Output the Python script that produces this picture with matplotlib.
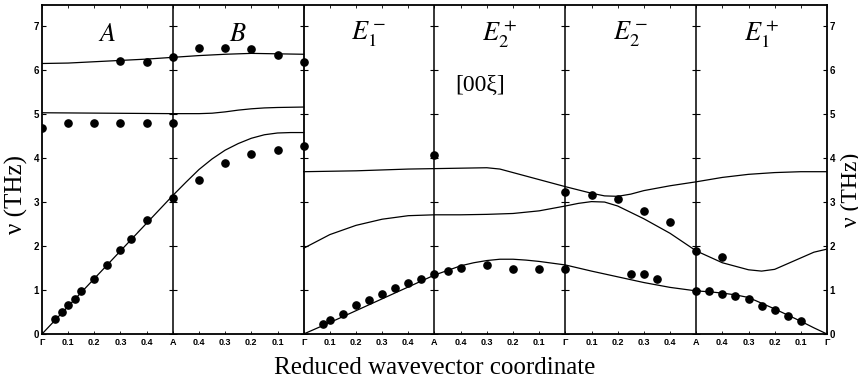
import matplotlib
matplotlib.use("Agg")
import matplotlib.pyplot as plt
import numpy as np

# path coordinate: left panel 0..1 (G-A-G), right panel 1..3 (G-A-G-A-G)
tick_pos = [i / 10 for i in range(31)]
tick_lab = (["Γ", "0.1", "0.2", "0.3", "0.4", "A", "0.4", "0.3", "0.2", "0.1"] * 3) + ["Γ"]
boundaries = [0.5, 1.0, 1.5, 2.0, 2.5]
panel_labels = ["$A$", "$B$", "$E_1^-$", "$E_2^+$", "$E_2^-$", "$E_1^+$"]
panel_x = [0.25, 0.75, 1.25, 1.75, 2.25, 2.75]

# calculated dispersion curves, left panel
l1_x = [0.0, 0.5, 0.55, 0.6, 0.65, 0.7, 0.75, 0.8, 0.85, 0.9, 0.95, 1.0]
l1_y = [0.0, 3.15, 3.45, 3.74, 3.98, 4.18, 4.33, 4.45, 4.53, 4.57, 4.58, 4.58]
l2_x = [0.0, 0.25, 0.5, 0.6, 0.65, 0.7, 0.75, 0.8, 0.85, 0.9, 1.0]
l2_y = [5.03, 5.02, 5.01, 5.01, 5.02, 5.05, 5.09, 5.12, 5.14, 5.15, 5.16]
l3_x = [0.0, 0.1, 0.2, 0.3, 0.4, 0.5, 0.6, 0.7, 0.8, 0.9, 1.0]
l3_y = [6.15, 6.16, 6.19, 6.22, 6.25, 6.29, 6.33, 6.36, 6.38, 6.37, 6.36]

# calculated dispersion curves, right panel
r1_x = [1.0, 1.1, 1.2, 1.3, 1.4, 1.5, 1.6, 1.65, 1.7, 1.75, 1.8, 1.85, 1.9, 2.0,
        2.1, 2.2, 2.3, 2.4, 2.5, 2.55, 2.6, 2.65, 2.7, 2.75, 2.8, 2.85, 2.9, 2.95, 3.0]
r1_y = [0.0, 0.26, 0.53, 0.80, 1.07, 1.34, 1.55, 1.62, 1.67, 1.70, 1.70, 1.68, 1.65, 1.57,
        1.43, 1.30, 1.17, 1.06, 0.98, 0.96, 0.93, 0.89, 0.83, 0.70, 0.57, 0.43, 0.29, 0.14, 0.0]
r2_x = [1.0, 1.1, 1.2, 1.3, 1.4, 1.5, 1.6, 1.7, 1.8, 1.9, 2.0, 2.05, 2.1, 2.15, 2.2,
        2.3, 2.4, 2.5, 2.6, 2.7, 2.75, 2.8, 2.9, 2.95, 3.0]
r2_y = [1.95, 2.26, 2.47, 2.61, 2.69, 2.71, 2.71, 2.72, 2.74, 2.80, 2.91, 2.97, 3.01, 3.00, 2.91,
        2.62, 2.29, 1.89, 1.62, 1.46, 1.43, 1.47, 1.73, 1.86, 1.93]
r3_x = [1.0, 1.2, 1.4, 1.5, 1.6, 1.7, 1.75, 1.8, 1.9, 2.0, 2.1, 2.15, 2.2, 2.25, 2.3,
        2.4, 2.5, 2.6, 2.7, 2.8, 2.9, 3.0]
r3_y = [3.69, 3.71, 3.75, 3.76, 3.77, 3.78, 3.75, 3.67, 3.51, 3.35, 3.20, 3.14, 3.13, 3.18, 3.26,
        3.37, 3.46, 3.56, 3.63, 3.67, 3.69, 3.69]

# measured points
p_x = [0.05, 0.075, 0.1, 0.125, 0.15, 0.2, 0.25, 0.3, 0.34, 0.4, 0.5, 0.6, 0.7, 0.8, 0.9, 1.0,
       0.0, 0.1, 0.2, 0.3, 0.4, 0.5,
       0.3, 0.4, 0.5, 0.6, 0.7, 0.8, 0.9, 1.0,
       1.075, 1.1, 1.15, 1.2, 1.25, 1.3, 1.35, 1.4, 1.45, 1.5, 1.55, 1.6, 1.7, 1.8, 1.9, 2.0,
       1.5, 2.0, 2.1, 2.2, 2.3, 2.4, 2.25, 2.3, 2.35,
       2.5, 2.5, 2.6, 2.55, 2.6, 2.65, 2.7, 2.75, 2.8, 2.85, 2.9]
p_y = [0.35, 0.49, 0.65, 0.80, 0.98, 1.24, 1.57, 1.90, 2.17, 2.59, 3.10, 3.49, 3.89, 4.09, 4.18, 4.28,
       4.69, 4.80, 4.80, 4.80, 4.79, 4.79,
       6.20, 6.19, 6.30, 6.50, 6.51, 6.49, 6.34, 6.19,
       0.23, 0.32, 0.46, 0.65, 0.78, 0.92, 1.05, 1.15, 1.25, 1.36, 1.44, 1.49, 1.58, 1.48, 1.47, 1.47,
       4.08, 3.23, 3.17, 3.08, 2.80, 2.54, 1.36, 1.36, 1.26,
       0.98, 1.89, 1.76, 0.97, 0.91, 0.87, 0.80, 0.64, 0.55, 0.42, 0.30]

plt.rcParams["mathtext.fontset"] = "stix"

fig = plt.figure(figsize=(8.58, 3.81), dpi=100)
ax = fig.add_axes([42 / 858, 1 - 334 / 381, 785 / 858, 329 / 381])

for cx, cy in [(l1_x, l1_y), (l2_x, l2_y), (l3_x, l3_y), (r1_x, r1_y), (r2_x, r2_y), (r3_x, r3_y)]:
    ax.plot(cx, cy, color="black", lw=0.9)
ax.plot(p_x, p_y, "o", color="black", ms=5.2, mec="black")

for b in boundaries:
    ax.axvline(b, color="black", lw=1.3 if b == 1.0 else 1.1)
    ax.plot([b] * 8, range(8), marker="_", color="black", ms=6, mew=0.8, ls="none")

ax.set_xlim(0, 3)
ax.set_ylim(0, 7.48)
ax.set_xticks(tick_pos)
ax.set_xticklabels(tick_lab, fontsize=6.5, fontweight="bold", family="Liberation Sans")
ax.set_yticks(range(8))
ax.set_yticklabels([str(i) for i in range(8)], fontsize=7, fontweight="bold", family="Liberation Sans")
ax.tick_params(axis="x", direction="in", length=2, width=0.6, top=True, pad=3)
ax.tick_params(axis="y", direction="in", length=3, width=0.8, right=True, labelright=True, pad=2)
for s in ax.spines.values():
    s.set_linewidth(1.3)

for lab, xx in zip(panel_labels, panel_x):
    ax.text(xx, 6.82, lab, fontsize=19, ha="center", va="center")
ax.text(1.674, 5.66, "[00ξ]", fontsize=17, ha="center", va="center", family="Liberation Serif")

ax.set_xlabel("Reduced wavevector coordinate", fontsize=18, family="Liberation Serif", labelpad=7)
fig.text(16 / 858, 1 - 195 / 381, "ν (THz)", rotation=90, fontsize=18, family="Liberation Serif",
         ha="center", va="center")
# right-hand copy of the label runs off the edge, as in the original figure
fig.text(851 / 858, 1 - 190 / 381, "ν (THz)", rotation=90, fontsize=17, family="Liberation Serif",
         ha="center", va="center")

fig.savefig("out.png", dpi=100)
